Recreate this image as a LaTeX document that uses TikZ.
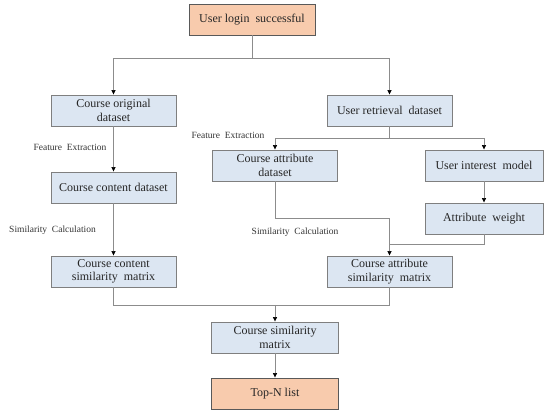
\documentclass[tikz,border=0pt]{standalone}
\usepackage{fontspec}
\setmainfont{Liberation Serif}
\usetikzlibrary{arrows.meta}
\definecolor{boxblue}{HTML}{DCE6F2}
\definecolor{boxorange}{HTML}{F8CBAD}
\definecolor{boxline}{HTML}{7F7F7F}
\definecolor{linegray}{HTML}{8C8C8C}
\begin{document}
\begin{tikzpicture}[x=1pt,y=-1pt,
  box/.style={draw=boxline, line width=0.9pt, fill=boxblue, minimum width=125pt,
    minimum height=31pt, align=center, inner sep=1pt,
    font=\fontsize{12}{13.5}\selectfont, text=black!85},
  endbox/.style={box, fill=boxorange, draw=black!65},
  conn/.style={draw=linegray, line width=0.7pt},
  arr/.style={conn, -{Triangle[length=4.5pt,width=4pt,color=black]}},
  lbl/.style={font=\fontsize{9.5}{11}\selectfont, text=black!80, inner sep=0pt}
]
\useasboundingbox (0,0) rectangle (544,411);
\node[endbox, minimum width=126pt] (login) at (252,19.5) {User login\ \ successful};
\node[box] (orig) at (113.5,110.5) {Course original\\dataset};
\node[box] (retr) at (389.5,110.5) {User retrieval\ \ dataset};
\node[box] (cattr) at (275,165.5) {Course attribute\\dataset};
\node[box, minimum width=118pt] (uim) at (484,165.5) {User interest\ \ model};
\node[box] (content) at (113.5,187.5) {Course content dataset};
\node[box, minimum width=118pt] (aw) at (484,218.5) {Attribute\ \ weight};
\node[box] (csim) at (113.5,271.5) {Course content\\similarity\ \ matrix};
\node[box] (asim) at (389.5,271.5) {Course attribute\\similarity\ \ matrix};
\node[box, minimum width=127pt] (sim) at (275,337.5) {Course similarity\\matrix};
\node[endbox, minimum width=127pt] (topn) at (275,393.5) {Top-N list};

\node[lbl] (fe1) at (70,147) {Feature\ \ Extraction};
\node[lbl] (fe2) at (228,135) {Feature\ \ Extraction};
\node[lbl] (sc1) at (52.5,230) {Similarity\ \ Calculation};
\node[lbl] (sc2) at (295,232) {Similarity\ \ Calculation};

\coordinate (j1) at (252,58);
\coordinate (j2) at (389.5,138);
\coordinate (j3) at (389.5,218);
\coordinate (j4) at (389.5,244);
\coordinate (j5) at (275,305);

\draw[conn] (login.south) -- (j1);
\draw[arr] (j1) -| (orig.north);
\draw[arr] (j1) -| (retr.north);
\draw[arr] (orig) -- (content);
\draw[arr] (content) -- (csim);
\draw[conn] (retr.south) -- (j2);
\draw[arr] (j2) -| (cattr.north);
\draw[arr] (j2) -| (uim.north);
\draw[arr] (uim) -- (aw);
\draw[arr] (cattr.south) |- (j3) -- (asim.north);
\draw[conn] (aw.south) |- (j4);
\draw[conn] (csim.south) |- (j5);
\draw[conn] (asim.south) |- (j5);
\draw[arr] (j5) -- (sim.north);
\draw[arr] (sim) -- (topn);
\end{tikzpicture}
\end{document}
